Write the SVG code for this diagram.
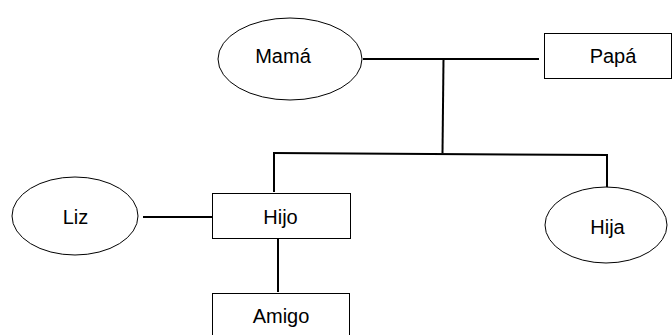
<svg xmlns="http://www.w3.org/2000/svg" width="672" height="335" viewBox="0 0 672 335">
<style>
.n{fill:#fff;stroke:#000;stroke-width:1}
.t{font-family:"Liberation Sans",Arial,sans-serif;font-size:20px;fill:#000;text-anchor:middle}
.c{stroke:#000;stroke-width:2;fill:none}
</style>
<rect width="672" height="335" fill="#fff"/>
<g id="connectors">
<line class="c" x1="363" y1="59" x2="539" y2="59"/>
<line class="c" x1="443.5" y1="59" x2="442.5" y2="153"/>
<line class="c" x1="273" y1="153" x2="608" y2="155"/>
<line class="c" x1="274" y1="153" x2="274" y2="192"/>
<line class="c" x1="607" y1="155" x2="607" y2="191"/>
<line class="c" x1="143" y1="217" x2="212" y2="217"/>
<line class="c" x1="278" y1="238" x2="278" y2="292"/>
</g>
<g id="mama"><ellipse class="n" cx="290" cy="59" rx="72" ry="41"/><text class="t" x="283" y="63">Mamá</text></g>
<g id="papa"><rect class="n" x="544.5" y="33.5" width="127" height="45"/><text class="t" x="613" y="63">Papá</text></g>
<g id="liz"><ellipse class="n" cx="75" cy="216" rx="63" ry="39"/><text class="t" x="75.5" y="224">Liz</text></g>
<g id="hijo"><rect class="n" x="212.5" y="193.5" width="138" height="45"/><text class="t" x="280.5" y="224">Hijo</text></g>
<g id="hija"><ellipse class="n" cx="606" cy="225" rx="61" ry="38"/><text class="t" x="607.5" y="234">Hija</text></g>
<g id="amigo"><rect class="n" x="212.5" y="293.5" width="137" height="50"/><text class="t" x="281" y="323">Amigo</text></g>
</svg>
